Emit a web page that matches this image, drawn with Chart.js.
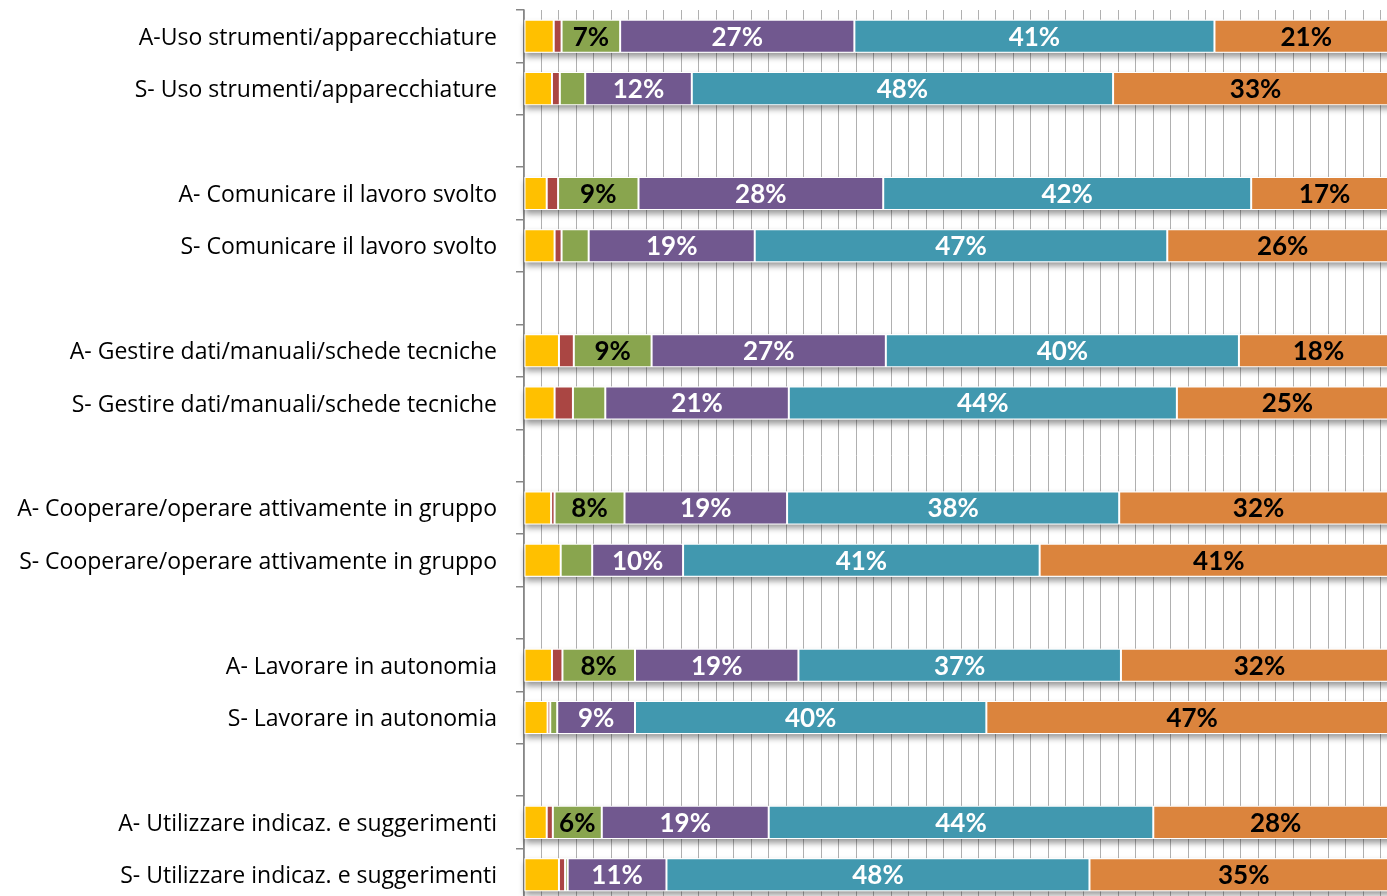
<!DOCTYPE html>
<html lang="it">
  <head>
    <meta charset="UTF-8" />
    <script src="https://cdn.jsdelivr.net/npm/chart.js@4.4.1/dist/chart.umd.min.js"></script>
    <title>Competenze</title>
    <style>
      html, body { margin: 0; padding: 0; background: #fff; overflow: hidden; }
      #wrap { width: 1387px; height: 896px; overflow: hidden; }
    </style>
  </head>
  <body>
    <div id="wrap">
      <canvas id="chart" width="1398" height="901"></canvas>
    </div>
    <script>
      // categorie (le righe vuote separano i gruppi)
      const categories = [
        "A-Uso strumenti/apparecchiature",
        "S- Uso strumenti/apparecchiature",
        "",
        "A- Comunicare il lavoro svolto",
        "S- Comunicare il lavoro svolto",
        "",
        "A- Gestire dati/manuali/schede tecniche",
        "S- Gestire dati/manuali/schede tecniche",
        "",
        "A- Cooperare/operare attivamente in gruppo",
        "S- Cooperare/operare attivamente in gruppo",
        "",
        "A- Lavorare in autonomia",
        "S- Lavorare in autonomia",
        "",
        "A- Utilizzare indicaz. e suggerimenti",
        "S- Utilizzare indicaz. e suggerimenti"
      ];

      // percentuali per livello
      const level1 = [3.4, 3.2, null, 2.6, 3.5, null, 4.0, 3.5, null, 3.1, 4.2, null, 3.2, 2.7, null, 2.6, 4.0];
      const level2 = [0.9, 0.9, null, 1.3, 0.8, null, 1.7, 2.1, null, 0.4, 0, null, 1.2, 0.3, null, 0.7, 0.7];
      const level3 = [6.7, 2.9, null, 9.2, 3.1, null, 8.9, 3.7, null, 8.0, 3.6, null, 8.3, 0.8, null, 5.6, 0.3];
      const level4 = [26.8, 12.2, null, 28.0, 19.0, null, 26.8, 21.0, null, 18.6, 10.4, null, 18.7, 8.9, null, 19.1, 11.3];
      const level5 = [41.2, 48.2, null, 42.1, 47.2, null, 40.4, 44.4, null, 38.0, 40.8, null, 36.9, 40.2, null, 44.0, 48.4];
      const level6 = [21.0, 32.6, null, 16.8, 26.4, null, 18.2, 25.3, null, 31.9, 41.0, null, 31.7, 47.1, null, 28.0, 35.3];

      const seriesData = [level1, level2, level3, level4, level5, level6];
      const colors = ["#FFC000", "#AA4643", "#89A54E", "#71588F", "#4198AF", "#DB843D"];
      const labelColors = ["#000", "#000", "#000", "#fff", "#fff", "#000"];

      // ombra sotto ogni barra
      const barShadow = {
        id: "barShadow",
        beforeDatasetsDraw(chart) {
          const ctx = chart.ctx;
          const first = chart.getDatasetMeta(0).data;
          const last = chart.getDatasetMeta(seriesData.length - 1).data;
          ctx.save();
          ctx.shadowColor = "rgba(0,0,0,0.4)";
          ctx.shadowBlur = 6;
          ctx.shadowOffsetY = 4;
          ctx.fillStyle = "#fff";
          for (let i = 0; i < categories.length; i++) {
            if (level1[i] === null) continue;
            const a = first[i].getProps(["base", "y", "height"], true);
            const b = last[i].getProps(["x"], true);
            ctx.fillRect(a.base, a.y - a.height / 2, b.x - a.base, a.height);
          }
          ctx.restore();
        }
      };

      // etichette percentuali
      const valueLabels = {
        id: "valueLabels",
        afterDatasetsDraw(chart) {
          const ctx = chart.ctx;
          ctx.save();
          ctx.font = "bold 26px Lato";
          ctx.textAlign = "center";
          ctx.textBaseline = "middle";
          chart.data.datasets.forEach((ds, d) => {
            chart.getDatasetMeta(d).data.forEach((el, i) => {
              const v = ds.data[i];
              if (v === null || v < 5) return;
              const p = el.getProps(["x", "y", "base"], true);
              ctx.fillStyle = labelColors[d];
              ctx.fillText(Math.round(v) + "%", (p.x + p.base) / 2, p.y + 1);
            });
          });
          ctx.restore();
        }
      };

      new Chart(document.getElementById("chart"), {
        type: "bar",
        data: {
          labels: categories,
          datasets: seriesData.map((d, k) => ({
            label: "Livello " + (k + 1),
            data: d,
            backgroundColor: colors[k],
            borderColor: "#fff",
            borderWidth: 1,
            borderSkipped: false,
            categoryPercentage: 1,
            barPercentage: 0.63
          }))
        },
        options: {
          indexAxis: "y",
          responsive: false,
          animation: false,
          layout: { padding: { top: 10, left: 0, right: 0, bottom: 0 } },
          plugins: { legend: { display: false }, tooltip: { enabled: false } },
          scales: {
            x: {
              stacked: true,
              min: 0,
              max: 100,
              afterFit(scale) { scale.height = 0; },
              ticks: { display: false, stepSize: 2 },
              grid: { color: "#b0b0b0", lineWidth: 1, drawTicks: false },
              border: { display: false }
            },
            y: {
              stacked: true,
              afterFit(scale) {
                scale.width = 524;
                scale.paddingTop = 0;
                scale.paddingBottom = 0;
              },
              ticks: { color: "#000", font: { family: "'Open Sans'", size: 23 }, padding: 19, labelOffset: 2, autoSkip: false },
              grid: { offset: true, drawOnChartArea: false, drawTicks: true, tickLength: 8, color: "#868686", lineWidth: 1.5 },
              border: { color: "#868686", width: 1.5 }
            }
          }
        },
        plugins: [barShadow, valueLabels]
      });
    </script>
  </body>
</html>
